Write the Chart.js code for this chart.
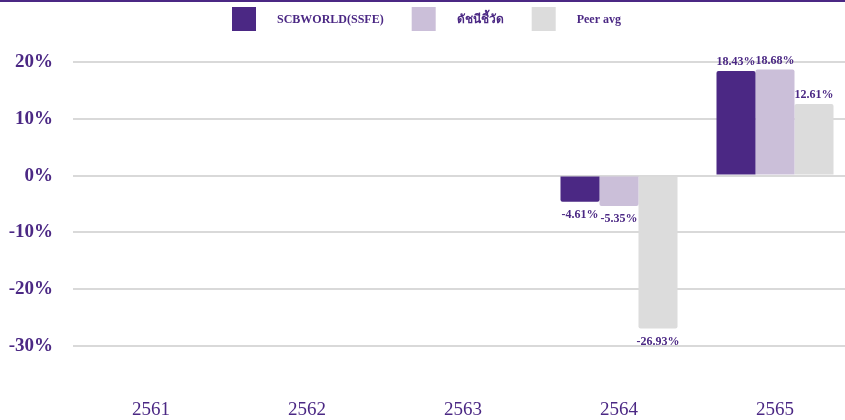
<!DOCTYPE html>
<html>
<head>
<meta charset="utf-8">
<script src="https://cdn.jsdelivr.net/npm/chart.js@4/dist/chart.umd.min.js"></script>
<style>
  html, body { margin: 0; padding: 0; overflow: hidden; background: #fff; }
  #wrap { width: 853px; height: 418px; border-top: 2px solid #4b2884; }
  canvas { display: block; }
</style>
</head>
<body>
<div id="wrap"><canvas id="lienzo" width="853" height="418"></canvas></div>
<script>
const anios = ['2561', '2562', '2563', '2564', '2565']
const fondo = [null, null, null, -4.61, 18.43]
const indice = [null, null, null, -5.35, 18.68]
const peer = [null, null, null, -26.93, 12.61]
const nombres = ['SCBWORLD(SSFE)', 'ดัชนีชี้วัด', 'Peer avg']
const colores = ['#4b2884', '#cbbfd9', '#dcdcdc']

const morado = '#4b2884'
const serif = "'Liberation Serif', 'Times New Roman', serif"

// etiquetas encima / debajo de cada barra
const etiquetas = {
    id: 'etiquetas',
    afterDatasetsDraw(chart) {
        const ctx = chart.ctx
        ctx.save()
        ctx.font = 'bold 12px ' + serif
        ctx.fillStyle = morado
        ctx.textAlign = 'center'
        chart.data.datasets.forEach((ds, i) => {
            chart.getDatasetMeta(i).data.forEach((bar, j) => {
                const v = ds.data[j]
                if (v === null) return
                const txt = v.toFixed(2) + '%'
                if (v >= 0) {
                    ctx.textBaseline = 'bottom'
                    ctx.fillText(txt, bar.x, bar.y - 3)
                } else {
                    ctx.textBaseline = 'top'
                    ctx.fillText(txt, bar.x, bar.y + 7)
                }
            })
        })
        ctx.restore()
    }
}

// leyenda con cuadros grandes
const leyenda = {
    id: 'leyenda',
    afterDraw(chart) {
        const ctx = chart.ctx
        ctx.save()
        ctx.font = 'bold 12px ' + serif
        const caja = 24, hueco = 21, sep = 28
        const anchos = chart.data.datasets.map(ds => ctx.measureText(ds.label).width)
        let total = 0
        anchos.forEach(w => total += caja + hueco + w)
        total += sep * (anchos.length - 1)
        let x = chart.width / 2 - total / 2
        chart.data.datasets.forEach((ds, i) => {
            ctx.fillStyle = ds.backgroundColor
            ctx.fillRect(x, 5, caja, caja)
            ctx.fillStyle = morado
            ctx.textBaseline = 'middle'
            ctx.textAlign = 'left'
            ctx.fillText(ds.label, x + caja + hueco, 18)
            x += caja + hueco + anchos[i] + sep
        })
        ctx.restore()
    }
}

new Chart(document.getElementById('lienzo'), {
    type: 'bar',
    data: {
        labels: anios,
        datasets: [
            { label: nombres[0], data: fondo, backgroundColor: colores[0] },
            { label: nombres[1], data: indice, backgroundColor: colores[1] },
            { label: nombres[2], data: peer, backgroundColor: colores[2] }
        ]
    },
    options: {
        responsive: false,
        animation: false,
        datasets: {
            bar: { categoryPercentage: 0.75, barPercentage: 1.0, borderRadius: 2 }
        },
        layout: { padding: { top: 60, right: 0, bottom: 1, left: 0 } },
        plugins: {
            legend: { display: false },
            tooltip: { enabled: false }
        },
        scales: {
            x: {
                grid: { display: false, drawTicks: false },
                border: { display: false },
                afterFit: (escala) => { escala.height = 73 },
                ticks: {
                    color: morado,
                    padding: 53,
                    font: { family: serif, size: 19 }
                }
            },
            y: {
                min: -30,
                max: 20,
                border: { display: false },
                grid: { color: '#d9d9d9', lineWidth: 2, drawTicks: false },
                afterFit: (escala) => { escala.width = 73 },
                ticks: {
                    stepSize: 10,
                    color: morado,
                    padding: 20,
                    font: { family: serif, size: 19, weight: 'bold' },
                    callback: v => v + '%'
                }
            }
        }
    },
    plugins: [etiquetas, leyenda]
})
</script>
</body>
</html>
